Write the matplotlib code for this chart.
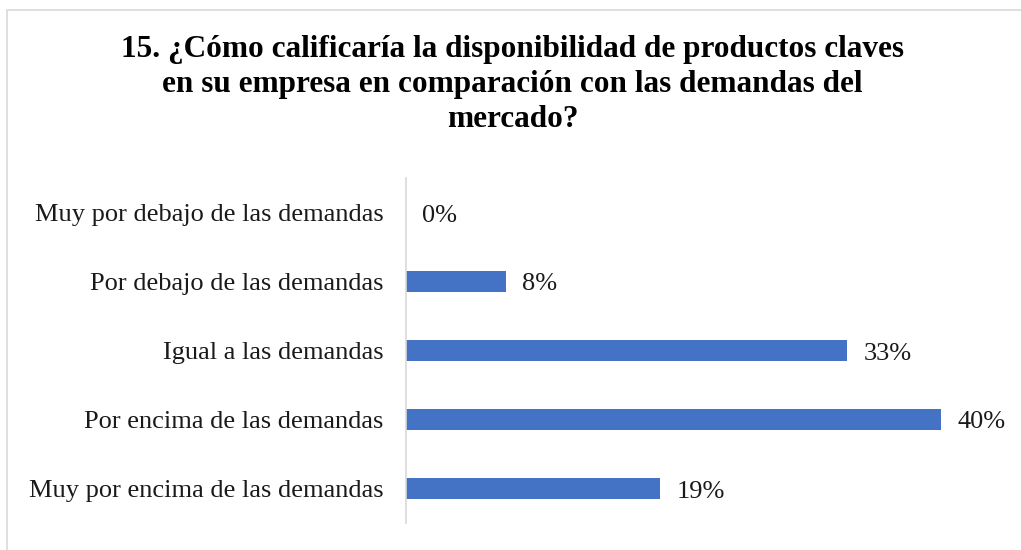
import matplotlib.pyplot as plt
from matplotlib.patches import Rectangle

categories = [
    "Muy por debajo de las demandas",
    "Por debajo de las demandas",
    "Igual a las demandas",
    "Por encima de las demandas",
    "Muy por encima de las demandas",
]
values = [0, 7.5, 33, 40, 19]
labels = ["0%", "8%", "33%", "40%", "19%"]

title = ("15. ¿Cómo calificaría la disponibilidad de productos claves\n"
         "en su empresa en comparación con las demandas del\n"
         "mercado?")

plt.rcParams["font.family"] = ["Liberation Serif", "DejaVu Serif"]

fig = plt.figure(figsize=(10.21, 5.5), dpi=100)
fig.patches.append(Rectangle((7 / 1021, -0.2), 1.2, 1.2 - 10 / 550, transform=fig.transFigure,
                             fill=False, edgecolor="#d9d9d9", linewidth=1.2))

ax = fig.add_axes([406 / 1021, 1 - 523 / 550, (1008 - 406) / 1021, (523 - 178) / 550])
pos = list(range(len(categories)))
ax.barh(pos, values, height=0.31, color="#4472C4")
ax.set_ylim(len(categories) - 0.5, -0.5)
ax.set_xlim(0, 45)
ax.set_yticks(pos)
ax.set_yticklabels(categories, fontsize=19, color="#1a1a1a")
ax.tick_params(axis="y", length=0, pad=16)
ax.set_xticks([])
for s in ["top", "right", "bottom"]:
    ax.spines[s].set_visible(False)
ax.spines["left"].set_color("#d9d9d9")
ax.spines["left"].set_linewidth(1.2)

for p, v, lab in zip(pos, values, labels):
    ax.annotate(lab, (v, p), xytext=(16, -3), textcoords="offset pixels",
                va="center", ha="left", fontsize=19, color="#1a1a1a")

fig.text(0.502, 1 - 35 / 550, title, ha="center", va="top", fontsize=22.5,
         fontweight="bold", linespacing=1.28)

fig.savefig("out.png", dpi=100)
